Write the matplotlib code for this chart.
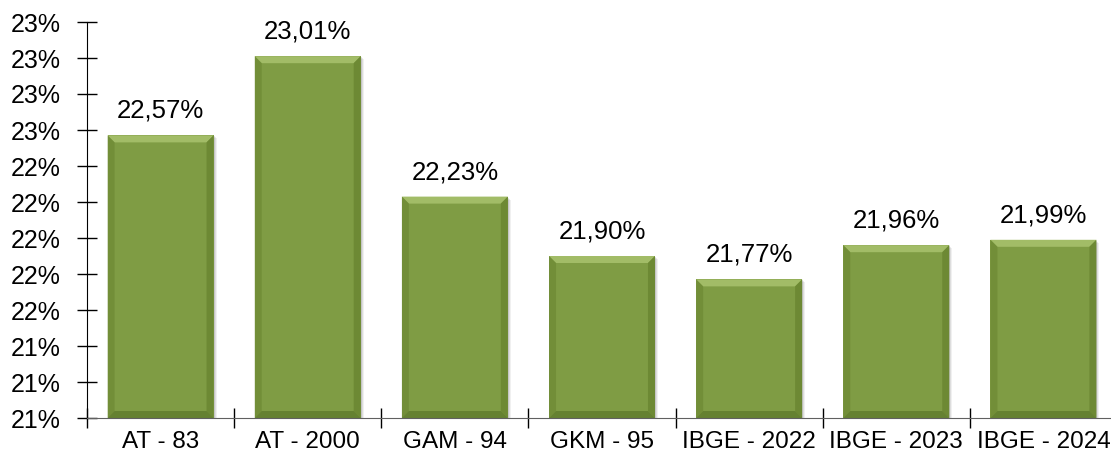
import matplotlib.pyplot as plt
from matplotlib.patches import Polygon, Rectangle
from matplotlib.ticker import FuncFormatter, FixedLocator

#### data

categories = ['AT - 83', 'AT - 2000', 'GAM - 94', 'GKM - 95',
              'IBGE - 2022', 'IBGE - 2023', 'IBGE - 2024']
values = [22.57, 23.01, 22.23, 21.90, 21.77, 21.96, 21.99]
y_min, y_max, y_step = 21.0, 23.2, 0.2

#### style

plt.rcParams['font.family'] = ['Liberation Sans', 'DejaVu Sans']
body = '#7f9c44'
top_c = '#a2bc67'
side_c = '#6d8934'
bottom_c = '#5b7629'
bar_w = 0.72

fig = plt.figure(figsize=(11.11, 4.55), dpi=100)
ax = fig.add_axes([87 / 1111, 37 / 455, 1030 / 1111, 396 / 455])
ax.set_xlim(-0.5, len(categories) - 0.5)
ax.set_ylim(y_min, y_max)

# bevel size in data units (about 7 px)
px_x = (len(categories)) / 1030
px_y = (y_max - y_min) / 396
bx, by = 7 * px_x, 7 * px_y

for i, v in enumerate(values):
    x0, x1 = i - bar_w / 2, i + bar_w / 2
    y0, y1 = y_min, v
    # soft shadow
    for k, a in [(3, 0.06), (2, 0.08), (1, 0.1)]:
        ax.add_patch(Rectangle((x0 + k * px_x, y0), x1 - x0, y1 - y0 - k * px_y,
                               facecolor='black', alpha=a, lw=0, zorder=1))
    ax.add_patch(Rectangle((x0, y0), x1 - x0, y1 - y0, facecolor=body,
                           lw=0, zorder=2))
    # bevels
    ax.add_patch(Polygon([(x0, y1), (x1, y1), (x1 - bx, y1 - by), (x0 + bx, y1 - by)],
                         facecolor=top_c, lw=0, zorder=3))
    ax.add_patch(Polygon([(x0, y0), (x0, y1), (x0 + bx, y1 - by), (x0 + bx, y0 + by)],
                         facecolor=side_c, lw=0, zorder=3, alpha=0.7))
    ax.add_patch(Polygon([(x1, y0), (x1, y1), (x1 - bx, y1 - by), (x1 - bx, y0 + by)],
                         facecolor=side_c, lw=0, zorder=3))
    ax.add_patch(Polygon([(x0, y0), (x1, y0), (x1 - bx, y0 + by), (x0 + bx, y0 + by)],
                         facecolor=bottom_c, lw=0, zorder=3, alpha=0.7))
    ax.annotate(f'{v:.2f}'.replace('.', ',') + '%', (i, v), xytext=(0, 9),
                textcoords='offset points', ha='center', va='bottom',
                fontsize=18.5, color='black', zorder=4)

# axes and ticks
ax.yaxis.set_major_locator(FixedLocator(
    [y_min + k * y_step for k in range(int(round((y_max - y_min) / y_step)) + 1)]))
ax.yaxis.set_major_formatter(FuncFormatter(lambda y, _: f'{y:.0f}%'))
ax.set_xticks([k - 0.5 for k in range(len(categories) + 1)])
ax.set_xticklabels([])
ax.set_xticks(range(len(categories)), minor=True)
ax.set_xticklabels(categories, minor=True, fontsize=17.5)
ax.tick_params(axis='x', which='major', direction='inout', length=14, width=1)
ax.tick_params(axis='x', which='minor', length=0, pad=9)
ax.tick_params(axis='y', direction='inout', length=14, width=1, labelsize=18, pad=12)

for s in ['top', 'right']:
    ax.spines[s].set_visible(False)
ax.spines['left'].set_color('black')
ax.spines['bottom'].set_color('#606060')
ax.spines['bottom'].set_zorder(5)

fig.savefig('out.png', dpi=100)
